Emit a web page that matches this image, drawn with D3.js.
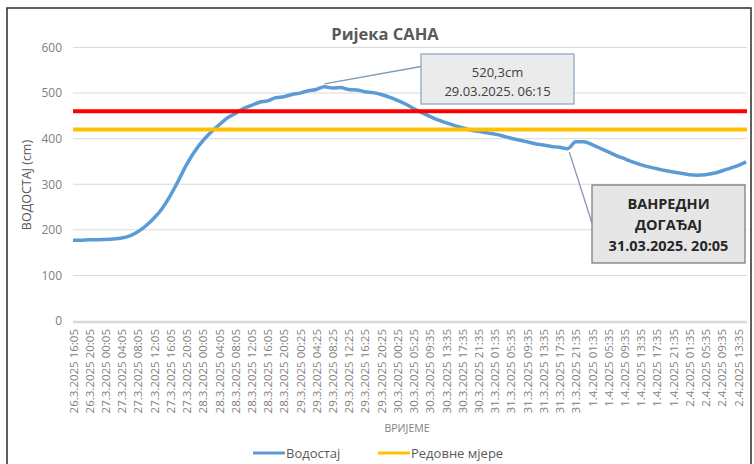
<!DOCTYPE html>
<html><head><meta charset="utf-8">
<script src="https://cdn.jsdelivr.net/npm/d3@7"></script>
<style>
html,body{margin:0;padding:0;background:#fff;}
svg{display:block;font-family:"Open Sans","Noto Sans",sans-serif;}
</style></head>
<body>
<svg id="chart" width="754" height="464"></svg>
<script>
// ---- DATA ----
const tickLabels = [
"26.3.2025 16:05","26.3.2025 20:05","27.3.2025 00:05","27.3.2025 04:05","27.3.2025 08:05","27.3.2025 12:05",
"27.3.2025 16:05","27.3.2025 20:05","28.3.2025 00:05","28.3.2025 04:05","28.3.2025 08:05","28.3.2025 12:05",
"28.3.2025 16:05","28.3.2025 20:05","29.3.2025 00:25","29.3.2025 04:25","29.3.2025 08:25","29.3.2025 12:25",
"29.3.2025 16:25","29.3.2025 20:25","30.3.2025 00:25","30.3.2025 05:25","30.3.2025 09:35","30.3.2025 13:35",
"30.3.2025 17:35","30.3.2025 21:35","31.3.2025 01:35","31.3.2025 05:35","31.3.2025 09:35","31.3.2025 13:35",
"31.3.2025 17:35","31.3.2025 21:35","1.4.2025 01:35","1.4.2025 05:35","1.4.2025 09:35","1.4.2025 13:35",
"1.4.2025 17:35","1.4.2025 21:35","2.4.2025 01:35","2.4.2025 05:35","2.4.2025 09:35","2.4.2025 13:35"];
// water level (cm), one reading every 2 hours (two per tick label)
const vodostaj = [
177,177,178,178,179,180,182,187,196,209,226,247,275,308,343,372,395,414,430,445,
455,466,473,480,483,490,492,497,500,505,508,514,511,512,508,507,503,501,497,491,
484,476,466,457,449,441,435,429,424,419,416,413,410,406,401,397,393,389,386,383,
381,378,393,393,387,379,371,363,356,349,343,338,334,330,327,324,321,320,321,324,
329,335,341,349];
const redovneMjere = 420;
const vanredneMjere = 460;
const yTicks = [0,100,200,300,400,500,600];
const peakValue = 520.3, peakIndex = 31;
const peakText = ["520,3cm","29.03.2025. 06:15"];
const eventValue = 377, eventIndex = 61.2;
const eventText = ["ВАНРЕДНИ","ДОГАЂАЈ","31.03.2025. 20:05"];
const legendItems = [{name:"Водостај",color:"#5b9bd5"},{name:"Редовне мјере",color:"#ffc000"}];

// ---- LAYOUT ----
const svg = d3.select("#chart");
const L = 73, R = 747, T = 47.5, B = 321;
const x = d3.scaleLinear().domain([0, 82]).range([73, 738]);
const y = d3.scaleLinear().domain([0, 600]).range([B, T]);

// outer frame
svg.append("rect").attr("x",7).attr("y",8).attr("width",744).attr("height",470)
  .attr("fill","none").attr("stroke","#2b2b2b").attr("stroke-width",1.5);

// title
svg.append("text").attr("x",385).attr("y",40).attr("text-anchor","middle")
  .attr("font-size",16.5).attr("font-weight","bold").attr("fill","#595959").text("Ријека САНА");

// gridlines
svg.append("g").selectAll("line").data(yTicks.filter(d=>d>0)).join("line")
  .attr("x1",L).attr("x2",R).attr("y1",d=>y(d)).attr("y2",d=>y(d))
  .attr("stroke","#d9d9d9").attr("stroke-width",1);
svg.append("line").attr("x1",L).attr("x2",R).attr("y1",y(0)+1).attr("y2",y(0)+1)
  .attr("stroke","#d9d9d9").attr("stroke-width",2.5);

// y axis labels
const yAxis = d3.axisLeft(y).tickValues(yTicks).tickSize(0).tickPadding(0);
const gy = svg.append("g").attr("transform","translate(62,0)").call(yAxis);
gy.select(".domain").remove();
gy.selectAll("text").attr("font-size",12).attr("fill","#808080").attr("font-family","Open Sans, sans-serif");

// y title
svg.append("text").attr("transform","translate(31,185) rotate(-90)").attr("text-anchor","middle")
  .attr("font-size",12.5).attr("fill","#595959").text("ВОДОСТАЈ (cm)");

// x labels
const xAxis = d3.axisBottom(x).tickValues(tickLabels.map((d,i)=>i*2))
  .tickFormat(d=>tickLabels[d/2]).tickSize(0).tickPadding(0);
const gx = svg.append("g").attr("transform","translate(0,329)").call(xAxis);
gx.select(".domain").remove();
gx.selectAll("text").attr("font-size",11.5).attr("fill","#808080")
  .attr("font-family","Open Sans, sans-serif")
  .attr("text-anchor","end").attr("dy","0.35em").attr("transform","rotate(-90)").attr("y",0).attr("x",0);

// x title
svg.append("text").attr("x",407).attr("y",432).attr("text-anchor","middle")
  .attr("font-size",10.5).attr("fill","#808080").text("ВРИЈЕМЕ");

// series line
const line = d3.line().x((d,i)=>x(i)).y(d=>y(d)).curve(d3.curveMonotoneX);
svg.append("path").datum(vodostaj).attr("d",line).attr("fill","none")
  .attr("stroke","#5b9bd5").attr("stroke-width",3.5).attr("stroke-linejoin","round");

// threshold lines
svg.append("line").attr("x1",L).attr("x2",R).attr("y1",y(redovneMjere)).attr("y2",y(redovneMjere))
  .attr("stroke","#ffc000").attr("stroke-width",4);
svg.append("line").attr("x1",L).attr("x2",R).attr("y1",y(vanredneMjere)).attr("y2",y(vanredneMjere))
  .attr("stroke","#ff0000").attr("stroke-width",4);

// peak annotation
svg.append("line").attr("x1",x(peakIndex)).attr("y1",y(peakValue)).attr("x2",421).attr("y2",66.5)
  .attr("stroke","#8497b0").attr("stroke-width",1.3);
svg.append("rect").attr("x",421).attr("y",54).attr("width",153).attr("height",50)
  .attr("fill","#ebebeb").attr("stroke","#8ea9c8").attr("stroke-width",1.3);
svg.append("g").selectAll("text").data(peakText).join("text")
  .attr("x",497.5).attr("y",(d,i)=>76.5+i*19.5).attr("text-anchor","middle")
  .attr("font-size",13).attr("fill","#404040").text(d=>d);

// event annotation
svg.append("line").attr("x1",x(eventIndex)).attr("y1",y(eventValue)+3).attr("x2",592).attr("y2",223)
  .attr("stroke","#8497b0").attr("stroke-width",1.3);
svg.append("rect").attr("x",592).attr("y",185).attr("width",153).attr("height",78)
  .attr("fill","#e7e6e6").attr("stroke","#7f7f7f").attr("stroke-width",1.3);
svg.append("g").selectAll("text").data(eventText).join("text")
  .attr("x",668.5).attr("y",(d,i)=>208.5+i*21).attr("text-anchor","middle")
  .attr("font-size",14.5).attr("font-weight","bold").attr("fill","#262626").text(d=>d);

// legend
const lg = svg.append("g");
const lx = [253, 378];
legendItems.forEach((it,i)=>{
  lg.append("line").attr("x1",lx[i]).attr("x2",lx[i]+32).attr("y1",453).attr("y2",453)
    .attr("stroke",it.color).attr("stroke-width",3);
  lg.append("text").attr("x",lx[i]+33).attr("y",457.5).attr("font-size",13)
    .attr("fill","#595959").text(it.name);
});
</script>
</body></html>
